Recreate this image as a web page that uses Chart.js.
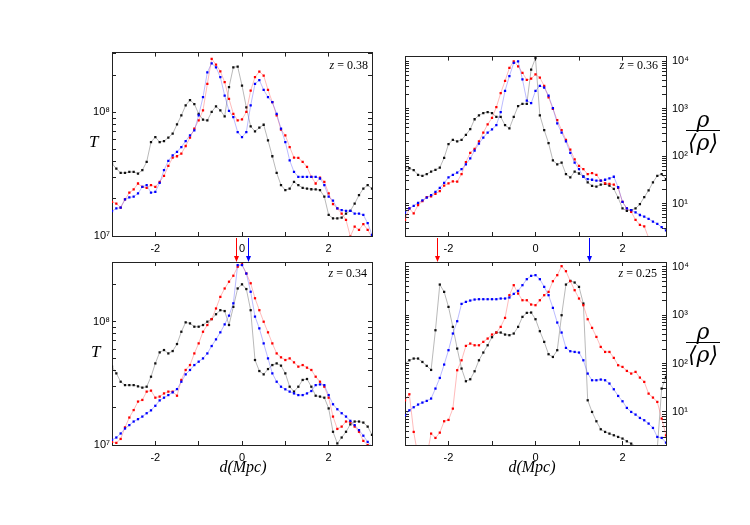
<!DOCTYPE html>
<html lang="en">
<head>
<meta charset="UTF-8">
<title>Profils T et densité</title>
<script src="https://cdn.jsdelivr.net/npm/chart.js@4"></script>
<style>
  body { margin: 0; background: #fff; }
  #wrap { position: relative; width: 750px; height: 525px; overflow: hidden; }
  canvas { position: absolute; }
  .lbl { position: absolute; color: #000; white-space: nowrap;
         font-family: 'Liberation Serif', 'Times New Roman', serif; }
  .zlab { font-size: 12px; line-height: 14px; }
  .ylab { font-size: 17px; line-height: 20px; font-style: italic; }
  .xlab { font-size: 16px; line-height: 18px; font-style: italic; width: 100px; text-align: center; }
  .frac { width: 34px; text-align: center; font-size: 22px; font-style: italic;
          font-family: 'DejaVu Serif', 'Liberation Serif', serif; }
  .frac .num { line-height: 20px; border-bottom: 1px solid #000; }
  .frac .den { line-height: 22px; padding-top: 1px; }
</style>
</head>
<body>
<div id="wrap">
  <canvas id="c38" width="320" height="222" style="left:62px; top:40px"></canvas>
  <canvas id="c36" width="305" height="222" style="left:395px; top:40px"></canvas>
  <canvas id="c34" width="320" height="236" style="left:62px; top:236px"></canvas>
  <canvas id="c25" width="305" height="236" style="left:395px; top:236px"></canvas>

  <div class="lbl zlab" style="right:382px; top:58px"><i>z</i> = 0.38</div>
  <div class="lbl zlab" style="right:92px; top:58px"><i>z</i> = 0.36</div>
  <div class="lbl zlab" style="right:383px; top:266px"><i>z</i> = 0.34</div>
  <div class="lbl zlab" style="right:93px; top:266px"><i>z</i> = 0.25</div>

  <div class="lbl ylab" style="left:89px; top:132px">T</div>
  <div class="lbl ylab" style="left:91px; top:342px">T</div>

  <div class="lbl frac" style="left:686px; top:110px"><div class="num">ρ</div><div class="den">⟨ρ⟩</div></div>
  <div class="lbl frac" style="left:686px; top:322px"><div class="num">ρ</div><div class="den">⟨ρ⟩</div></div>

  <div class="lbl xlab" style="left:193px; top:458px">d(Mpc)</div>
  <div class="lbl xlab" style="left:482px; top:458px">d(Mpc)</div>
</div>

<script>
  // distance along the cut (Mpc)
  const dist = [-3.0,-2.9,-2.8,-2.7,-2.6,-2.5,-2.4,-2.3,-2.2,-2.1,-2.0,-1.9,-1.8,-1.7,-1.6,-1.5,-1.4,-1.3,-1.2,-1.1,
    -1.0,-0.9,-0.8,-0.7,-0.6,-0.5,-0.4,-0.3,-0.2,-0.1,0.0,0.1,0.2,0.3,0.4,0.5,0.6,0.7,0.8,0.9,
    1.0,1.1,1.2,1.3,1.4,1.5,1.6,1.7,1.8,1.9,2.0,2.1,2.2,2.3,2.4,2.5,2.6,2.7,2.8,2.9,3.0];

  // z = 0.38 (temperature, K)
  const tBlack38 = [3.85e7,3.51e7,3.24e7,3.24e7,3.30e7,3.30e7,3.20e7,3.41e7,3.98e7,5.76e7,
    6.32e7,5.76e7,5.87e7,6.25e7,6.73e7,8.00e7,9.46e7,1.14e8,1.26e8,1.17e8,
    9.75e7,8.73e7,8.62e7,1.01e8,1.12e8,1.04e8,9.29e7,1.60e8,2.32e8,2.35e8,
    1.65e8,1.10e8,7.71e7,7.03e7,7.52e7,7.95e7,5.94e7,4.42e7,3.24e7,2.58e7,
    2.35e7,2.42e7,2.74e7,2.58e7,2.45e7,2.42e7,2.39e7,2.38e7,2.35e7,2.08e7,
    1.48e7,1.39e7,1.39e7,1.41e7,1.52e7,1.60e7,1.83e7,2.14e7,2.42e7,2.58e7,2.42e7];
  const tRed38 = [1.89e7,1.83e7,1.70e7,1.98e7,2.24e7,2.38e7,2.66e7,2.50e7,2.45e7,2.58e7,
    2.50e7,2.74e7,3.07e7,3.69e7,4.31e7,4.42e7,4.64e7,5.35e7,6.25e7,7.38e7,
    8.62e7,1.04e8,1.70e8,2.71e8,2.44e8,2.15e8,1.76e8,1.29e8,9.75e7,8.62e7,
    8.78e7,1.01e8,1.50e8,1.93e8,2.14e8,1.99e8,1.52e8,1.21e8,9.46e7,7.25e7,
    6.53e7,5.25e7,4.31e7,4.28e7,3.98e7,3.62e7,3.01e7,2.66e7,2.97e7,2.74e7,
    2.21e7,1.81e7,1.67e7,1.52e7,1.35e7,0.99e7,1.19e7,1.12e7,1.25e7,1.12e7,0.98e7];
  const tBlue38 = [1.59e7,1.67e7,1.70e7,1.98e7,2.05e7,2.08e7,2.21e7,2.50e7,2.58e7,2.24e7,
    2.28e7,2.69e7,3.41e7,4.05e7,4.50e7,4.79e7,5.25e7,5.87e7,6.53e7,7.16e7,
    9.46e7,1.33e8,2.11e8,2.50e8,2.32e8,1.93e8,1.37e8,1.03e8,9.16e7,6.94e7,
    6.32e7,6.94e7,1.14e8,1.70e8,1.83e8,1.52e8,1.33e8,1.21e8,9.75e7,7.38e7,
    5.76e7,4.10e7,3.30e7,3.01e7,3.01e7,3.01e7,3.01e7,3.01e7,2.92e7,2.58e7,
    2.08e7,1.93e7,1.67e7,1.62e7,1.60e7,1.60e7,1.52e7,1.52e7,1.48e7,1.27e7,1.02e7];

  // z = 0.36 (overdensity)
  const rhoBlack36 = [57.4,55.6,50.5,40.5,38.6,41.8,47.4,51.3,57.4,92.4,
    180,221,204,221,281,373,601,728,813,853,
    813,672,672,452,386,672,1135,1268,1268,6730,
    11700,728,356,189,81.3,67.3,72.8,41.8,35.6,47.4,
    43.1,37.4,28.1,23.6,22.8,25.1,25.9,23.9,20.4,13.3,
    7.88,7.05,7.28,7.88,9.69,13.7,18.9,28.1,38.6,41.8,32.9];
  const rhoRed36 = [4.52,7.88,6.21,9.24,11.2,13.7,14.2,16.1,18.3,23.9,
    26.8,29.4,29.0,41.8,75.1,117,142,204,314,467,
    641,1082,2142,3855,7278,10000,7880,5741,4046,4305,
    5297,4519,3040,1742,1000,574,356,221,137,85.3,
    62.1,53.0,41.8,43.8,40.5,30.4,26.8,25.9,25.1,21.4,
    10.8,7.88,6.72,4.52,3.56,3.29,1.9,null,null,null,null];
  const rhoBlue36 = [6.41,7.88,8.95,10.3,11.7,13.3,15.1,17.7,21.4,27.2,
    35.6,40.5,45.2,53.0,67.3,89.5,131,183,247,314,
    368,452,853,2394,4894,9247,10000,4178,1486,1309,
    2394,3040,2805,1888,1032,489,314,204,117,72.8,
    53.0,36.8,32.9,31.8,30.4,30.4,31.8,34.0,36.8,22.1,
    10.8,7.88,7.28,6.52,5.74,5.30,4.74,4.18,3.73,3.19,2.72];

  // z = 0.34 (temperature, K)
  const tBlack34 = [4.32e7,3.81e7,3.26e7,3.06e7,3.06e7,3.06e7,2.99e7,2.92e7,2.97e7,3.58e7,
    4.59e7,5.64e7,5.89e7,5.53e7,5.78e7,6.59e7,8.29e7,9.88e7,9.69e7,9.11e7,
    9.11e7,9.40e7,1.00e8,1.05e8,1.15e8,1.24e8,1.22e8,9.40e7,1.32e8,1.86e8,
    2.01e8,1.84e8,1.24e8,4.89e7,3.98e7,3.74e7,4.13e7,4.45e7,4.59e7,4.40e7,
    3.81e7,2.97e7,2.71e7,2.97e7,3.37e7,3.43e7,2.97e7,2.51e7,2.47e7,2.42e7,
    1.98e7,1.28e7,1.03e7,1.15e7,1.28e7,1.47e7,1.55e7,1.55e7,1.52e7,1.41e7,1.21e7];
  const tRed34 = [1.06e7,1.04e7,1.12e7,1.39e7,1.67e7,1.92e7,2.25e7,2.32e7,2.71e7,2.76e7,
    2.42e7,2.47e7,2.62e7,2.71e7,2.71e7,2.51e7,3.37e7,4.06e7,4.45e7,5.53e7,
    6.67e7,8.29e7,9.40e7,1.05e8,1.28e8,1.59e8,1.86e8,2.11e8,2.36e8,2.79e8,
    2.92e8,2.46e8,2.05e8,1.55e8,1.24e8,1.00e8,8.20e7,6.67e7,5.53e7,5.14e7,
    4.89e7,5.04e7,4.68e7,4.32e7,4.45e7,4.24e7,4.06e7,3.58e7,3.26e7,2.97e7,
    2.42e7,1.70e7,1.35e7,1.41e7,1.55e7,1.53e7,1.41e7,1.28e7,1.08e7,1.00e7,0.94e7];
  const tBlue34 = [1.10e7,1.15e7,1.24e7,1.36e7,1.45e7,1.55e7,1.62e7,1.70e7,1.81e7,1.91e7,
    2.08e7,2.30e7,2.42e7,2.54e7,2.67e7,2.84e7,3.26e7,3.74e7,4.06e7,4.45e7,
    4.74e7,5.04e7,5.53e7,6.35e7,7.19e7,8.20e7,9.51e7,1.12e8,1.41e8,2.88e8,
    2.88e8,2.46e8,1.75e8,1.10e8,8.83e7,6.67e7,5.04e7,3.81e7,3.26e7,2.97e7,
    2.83e7,2.71e7,2.62e7,2.54e7,2.54e7,2.62e7,2.74e7,3.06e7,3.10e7,3.06e7,
    2.54e7,2.14e7,1.95e7,1.81e7,1.70e7,1.57e7,1.45e7,1.32e7,1.19e7,1.06e7,0.97e7];

  // z = 0.25 (overdensity)
  const rhoBlack25 = [100,117,127,127,108,89.5,73.9,489,4305,3040,
    1486,574,204,78.8,43.1,47.4,69.3,117,169,239,
    351,438,438,398,386,418,574,924,1117,1135,
    826,467,281,156,137,189,1000,4305,5129,4742,
    3855,1742,17.4,10,6.41,4.38,3.86,3.56,3.29,3.04,
    2.81,2.47,2.21,1.95,1.74,1.49,1.27,1.08,1.74,30.4,53.0];
  const rhoRed25 = [17.4,23.2,3.86,1.2,1.0,1.2,3.56,2.90,3.73,6.41,
    6.83,11.7,72.8,117,232,259,239,239,281,329,
    398,438,574,881,2594,4178,2805,2040,2040,1663,
    1611,2040,2594,3040,5047,6730,10330,8128,5047,3289,
    2213,1611,826,547,356,221,174,174,131,92.4,
    85.3,70.5,62.1,67.3,51.3,41.8,23.9,19.8,16.1,7.28,3.29];
  const rhoBlue25 = [8.53,10.8,12.5,14.2,15.6,16.9,18.9,30.4,50.5,95.3,
    189,418,751,1715,1888,2010,2109,2142,2142,2142,
    2142,2142,2213,2213,2323,2761,3184,4178,5559,6516,
    6730,5559,3855,2594,1419,705,438,211,180,174,
    169,117,62.1,45.2,45.2,46.7,45.2,38.6,29.4,21.4,
    16.6,12.1,10,8.81,7.51,6.72,5.74,4.67,3.04,2.90,2.32];

  // arrows between the panels (red, blue), in Mpc
  const arrowsLeft = [-0.15, 0.13];
  const arrowsRight = [-2.27, 1.22];

  // axes
  const dRange = [-3, 3];
  const dTicks = [-3, -2, -1, 0, 1, 2, 3];
  const dTickLabels = ['', '-2', '', '0', '', '2', ''];
  const tRange = [1e7, 3.05e8];
  const tTicks = [1e7, 2e7, 3e7, 4e7, 5e7, 6e7, 7e7, 8e7, 9e7, 1e8, 2e8, 3e8];
  const tDecadeLabels = { 10000000: '10⁷', 100000000: '10⁸' };
  const rhoRange = [2.07, 1.26e4];
  const rhoTicks = [3, 4, 5, 6, 7, 8, 9, 10, 20, 30, 40, 50, 60, 70, 80, 90,
    100, 200, 300, 400, 500, 600, 700, 800, 900,
    1000, 2000, 3000, 4000, 5000, 6000, 7000, 8000, 9000, 10000];
  const rhoDecadeLabels = { 10: '10¹', 100: '10²', 1000: '10³', 10000: '10⁴' };

  const axisFont = { family: "'Liberation Sans', Arial, sans-serif", size: 11 };
  const frame = '#222';

  function series(vals, pointColor, lineColor) {
    return {
      data: dist.map((d, i) => ({ x: d, y: vals[i] })),
      borderColor: lineColor,
      borderWidth: 0.7,
      pointStyle: 'rect',
      pointRadius: 1.6,
      pointBorderWidth: 0,
      pointBackgroundColor: pointColor,
      tension: 0
    };
  }

  function dAxis(position, showLabels, height) {
    return {
      type: 'linear', position: position, min: dRange[0], max: dRange[1],
      afterBuildTicks: s => { s.ticks = dTicks.map(v => ({ value: v })); },
      afterFit: s => { s.height = height; },
      ticks: { display: showLabels, autoSkip: false, maxRotation: 0, padding: 10, color: '#000',
        font: axisFont, callback: v => dTickLabels[dTicks.indexOf(v)] },
      grid: { drawOnChartArea: false, tickLength: -4, tickColor: frame },
      border: { color: frame, width: 1 }
    };
  }

  function logAxis(position, range, ticks, labels, showLabels, width, padding) {
    return {
      type: 'logarithmic', position: position, min: range[0], max: range[1],
      afterBuildTicks: s => { s.ticks = ticks.map(v => ({ value: v })); },
      afterFit: s => { s.width = width; },
      ticks: { display: showLabels, autoSkip: false, padding: padding, color: '#000',
        font: axisFont, callback: v => labels[v] || '' },
      grid: { drawOnChartArea: false, tickLength: -4, tickColor: frame },
      border: { color: frame, width: 1 }
    };
  }

  // red and blue arrows drawn above the lower panels
  const arrowPlugin = {
    id: 'arrows',
    afterDraw(chart, args, opts) {
      if (!opts.marks) return;
      const ctx = chart.ctx, top = chart.chartArea.top;
      const colors = ['#ff0000', '#0000ff'];
      opts.marks.forEach((m, i) => {
        const x = Math.round(chart.scales.x.getPixelForValue(m)) + 0.5;
        ctx.save();
        ctx.strokeStyle = colors[i];
        ctx.fillStyle = colors[i];
        ctx.lineWidth = 1;
        ctx.beginPath();
        ctx.moveTo(x, 2);
        ctx.lineTo(x, top - 4);
        ctx.stroke();
        ctx.beginPath();
        ctx.moveTo(x - 2.5, top - 6);
        ctx.lineTo(x + 2.5, top - 6);
        ctx.lineTo(x, top);
        ctx.closePath();
        ctx.fill();
        ctx.restore();
      });
    }
  };

  function panel(id, black, red, blue, kind, padTop, arrows) {
    const left = kind === 't';
    const scales = {
      x: dAxis('bottom', true, padTop === 12 ? 26 : 27),
      x2: dAxis('top', false, 0)
    };
    if (left) {
      scales.y = logAxis('left', tRange, tTicks, tDecadeLabels, true, 50, 6);
      scales.y2 = logAxis('right', tRange, tTicks, tDecadeLabels, false, 0, 0);
    } else {
      scales.y = logAxis('right', rhoRange, rhoTicks, rhoDecadeLabels, true, 34, 10);
      scales.y2 = logAxis('left', rhoRange, rhoTicks, rhoDecadeLabels, false, 0, 0);
    }
    const ds = [series(blue, '#0000ff', 'rgba(60,60,255,0.5)'),
                series(red, '#ff0000', 'rgba(255,60,60,0.5)'),
                series(black, '#111111', 'rgba(0,0,0,0.4)')];
    ds.forEach(d => { d.xAxisID = 'x'; d.yAxisID = 'y'; });
    new Chart(document.getElementById(id), {
      type: 'line',
      data: { datasets: ds },
      options: {
        responsive: false,
        animation: false,
        devicePixelRatio: 1,
        events: [],
        layout: { padding: left ? { top: padTop, right: 7, left: 0, bottom: 0 }
                                 : { top: padTop, right: 0, left: 8, bottom: 0 } },
        plugins: { legend: { display: false }, tooltip: { enabled: false },
                   arrows: { marks: arrows } },
        scales: scales
      },
      plugins: [arrowPlugin]
    });
  }

  panel('c38', tBlack38, tRed38, tBlue38, 't', 12, null);
  panel('c36', rhoBlack36, rhoRed36, rhoBlue36, 'rho', 12, null);
  panel('c34', tBlack34, tRed34, tBlue34, 't', 26, arrowsLeft);
  panel('c25', rhoBlack25, rhoRed25, rhoBlue25, 'rho', 26, arrowsRight);
</script>
</body>
</html>
